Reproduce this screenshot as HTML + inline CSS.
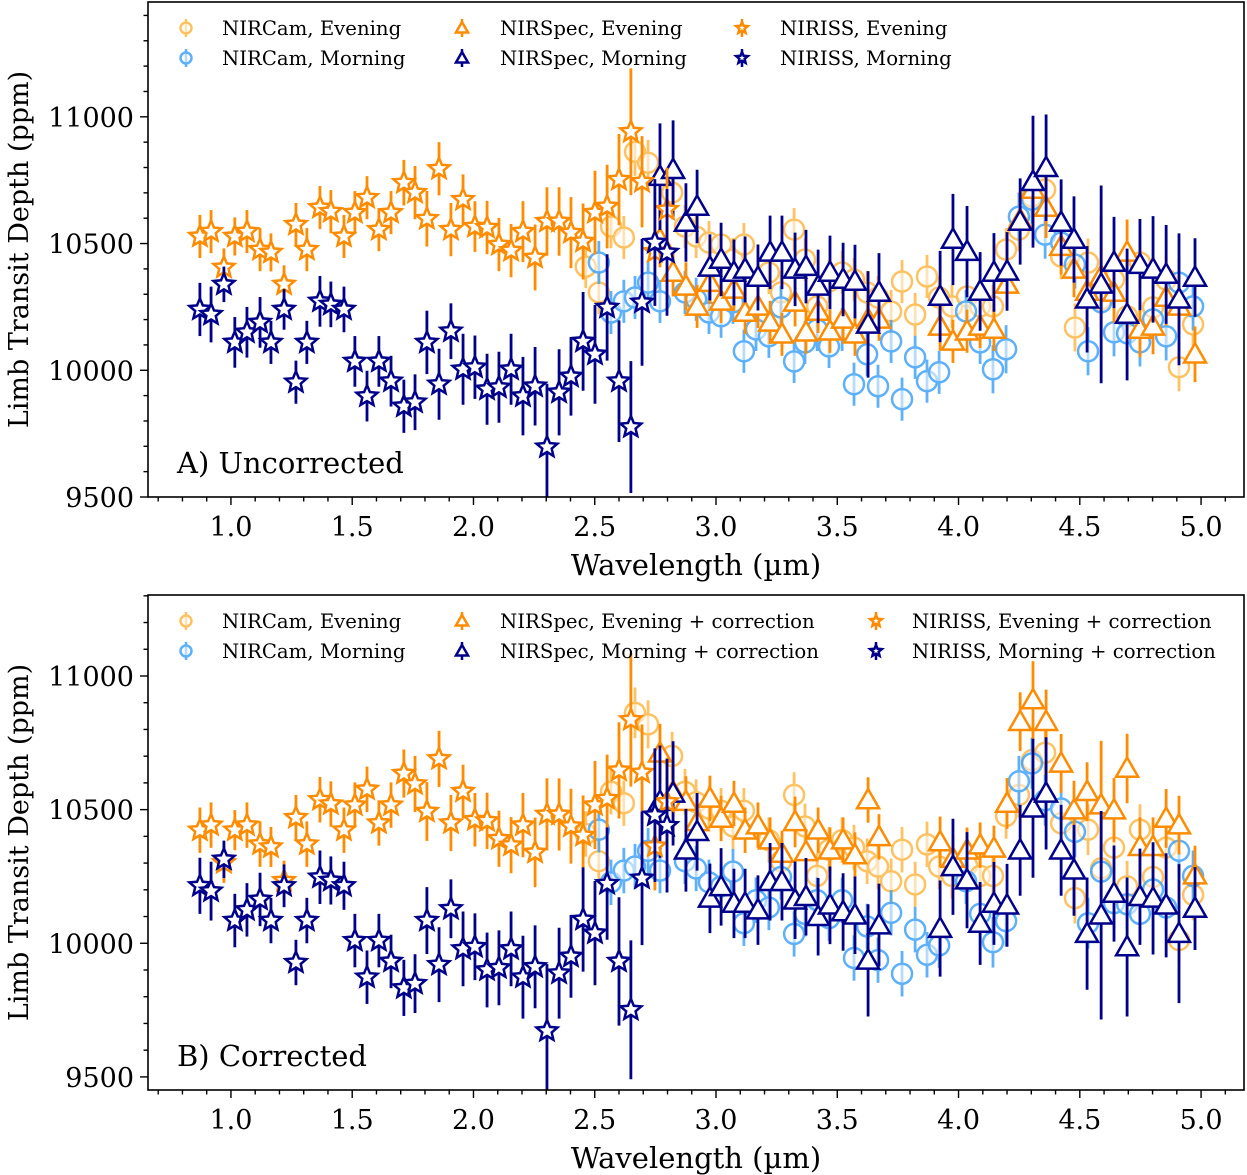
<!DOCTYPE html>
<html><head><meta charset="utf-8">
<style>
body{margin:0;background:#fff;}
svg{display:block;font-family:"DejaVu Serif","Liberation Serif",serif;}
</style></head>
<body>
<svg id="chart" width="1247" height="1175" viewBox="0 0 1247 1175" xmlns="http://www.w3.org/2000/svg"></svg>
<script>
// ---- data ----
const nisWl = [0.872,0.918,0.971,1.016,1.066,1.120,1.165,1.219,1.268,1.313,1.367,1.412,1.466,1.511,1.561,1.610,1.660,1.713,1.759,1.808,1.858,1.907,1.957,2.006,2.056,2.105,2.155,2.204,2.254,2.303,2.353,2.402,2.452,2.501,2.551,2.600,2.649,2.695,2.748,2.798];
const nisEveA = [10528,10547,10406,10528,10547,10476,10465,10339,10575,10476,10642,10626,10528,10622,10681,10555,10622,10740,10701,10598,10795,10555,10673,10567,10563,10496,10472,10547,10445,10587,10587,10543,10508,10622,10646,10752,10941,10744,10468,10634];
const nisMorA = [10240,10220,10339,10110,10150,10189,10110,10240,9953,10110,10272,10260,10240,10035,9898,10035,9957,9858,9874,10110,9945,10154,10004,10012,9925,9933,10004,9898,9937,9697,9913,9976,10114,10063,10248,9957,9776,10268,10504,10465];
const nisEveB = [10423,10442,10301,10423,10442,10371,10360,10234,10470,10371,10537,10521,10423,10517,10576,10450,10517,10635,10596,10493,10690,10450,10568,10462,10458,10391,10367,10442,10340,10482,10482,10438,10403,10517,10541,10647,10836,10639,10363,10529];
const nisMorB = [10215,10195,10314,10085,10125,10164,10085,10215,9928,10085,10247,10235,10215,10010,9873,10010,9932,9833,9849,10085,9920,10129,9979,9987,9900,9908,9979,9873,9912,9672,9888,9951,10089,10038,10223,9932,9751,10243,10479,10440];
const nisErrE = [85,85,75,75,85,85,75,75,85,85,85,85,85,85,85,85,85,90,105,110,105,105,100,100,105,105,105,120,130,135,135,140,150,165,165,180,250,180,165,165];
const nisErrM = [105,110,70,100,100,100,85,80,85,85,100,90,90,100,100,100,100,105,110,125,140,110,140,125,140,140,140,155,155,250,170,155,195,195,210,240,260,250,250,250];

const ncWlE = [2.463,2.517,2.567,2.620,2.666,2.720,2.819,2.872,2.918,2.971,3.021,3.070,3.115,3.218,3.268,3.322,3.367,3.417,3.466,3.520,3.569,3.623,3.668,3.722,3.767,3.821,3.870,3.920,3.973,4.035,4.089,4.142,4.196,4.249,4.303,4.357,4.423,4.480,4.534,4.588,4.641,4.695,4.748,4.802,4.856,4.909,4.967];
const ncEve = [10409,10307,10567,10524,10862,10819,10701,10567,10528,10504,10496,10437,10496,10386,10307,10555,10437,10252,10350,10386,10358,10307,10287,10232,10350,10220,10370,10287,10252,10291,10252,10252,10476,10555,10685,10713,10449,10169,10425,10280,10358,10213,10425,10248,10358,10012,10181];
const ncErrE = [85,85,85,85,95,90,90,85,85,85,85,85,85,85,85,85,85,85,85,85,85,85,85,85,85,85,85,85,85,85,85,85,85,85,85,85,90,95,95,95,95,95,95,95,95,95,95];
const ncWlM = [2.517,2.567,2.620,2.666,2.720,2.769,2.872,2.918,2.971,3.021,3.070,3.115,3.165,3.218,3.268,3.322,3.367,3.417,3.466,3.520,3.569,3.623,3.668,3.722,3.767,3.821,3.870,3.920,4.031,4.089,4.142,4.196,4.249,4.303,4.357,4.423,4.480,4.534,4.588,4.641,4.695,4.748,4.802,4.856,4.909,4.967];
const ncMor = [10425,10228,10272,10287,10346,10272,10307,10280,10228,10213,10268,10075,10161,10134,10248,10035,10110,10161,10094,10161,9945,10063,9937,10114,9886,10051,9957,9992,10232,10110,10004,10083,10606,10673,10535,10504,10417,10075,10268,10150,10146,10110,10201,10134,10346,10252];
const ncErrM = [85,85,85,85,85,85,85,85,85,85,85,85,85,85,85,85,85,85,85,85,85,85,85,85,85,85,85,85,85,85,95,95,95,95,95,95,95,95,95,95,95,95,95,95,95,95];

const nsWl = [2.769,2.823,2.876,2.922,2.975,3.021,3.074,3.120,3.173,3.223,3.272,3.326,3.371,3.421,3.470,3.524,3.573,3.627,3.672,3.924,3.977,4.035,4.089,4.146,4.200,4.254,4.307,4.361,4.423,4.476,4.530,4.588,4.641,4.695,4.748,4.802,4.856,4.909,4.975];
const nsEveA = [10516,10386,10331,10252,10346,10272,10319,10228,10252,10189,10142,10268,10150,10232,10154,10201,10142,10201,10201,10173,10114,10154,10173,10161,10339,10594,10713,10642,10488,10398,10311,10370,10307,10465,10161,10173,10287,10252,10063];
const nsMorA = [10764,10791,10583,10646,10406,10437,10386,10398,10366,10465,10465,10398,10409,10331,10386,10358,10350,10181,10307,10291,10516,10468,10311,10386,10390,10587,10744,10799,10583,10516,10280,10339,10425,10220,10417,10398,10378,10280,10366];
const nsEveB = [10711,10567,10530,10454,10542,10467,10523,10423,10442,10386,10336,10454,10342,10423,10348,10386,10330,10536,10398,10379,10317,10348,10367,10355,10523,10829,10910,10829,10673,10498,10567,10517,10498,10654,10361,10361,10467,10442,10255];
const nsMorB = [10530,10561,10348,10417,10168,10211,10149,10149,10124,10230,10230,10161,10174,10099,10142,10117,10105,9936,10068,10055,10286,10236,10074,10149,10142,10348,10505,10561,10348,10273,10036,10105,10186,9986,10174,10168,10142,10036,10130];
const nsErrE = [110,95,95,85,85,85,85,85,85,85,85,95,85,85,85,85,85,85,85,95,85,85,85,85,95,110,145,120,110,110,110,240,120,130,110,110,110,110,110];
const nsErrM = [210,195,155,145,130,145,130,130,130,145,145,145,145,145,145,145,145,210,155,180,180,180,155,155,155,170,260,210,170,170,210,390,180,260,180,210,195,260,155];

const xTickVals = [1.0,1.5,2.0,2.5,3.0,3.5,4.0,4.5,5.0];
const xTickLabels = ["1.0","1.5","2.0","2.5","3.0","3.5","4.0","4.5","5.0"];
const yTickVals = [9500,10000,10500,11000];
const yTickLabels = ["9500","10000","10500","11000"];

const C_NAVY = "#00008b", C_ORANGE = "#ff8c00", C_LORANGE = "#ffb43c", C_LBLUE = "#43a3f7";
const NS = "http://www.w3.org/2000/svg";
const svg = document.getElementById('chart');
function mk(tag, attrs, parent){const e=document.createElementNS(NS,tag);for(const k in attrs)e.setAttribute(k,attrs[k]);(parent||svg).appendChild(e);return e;}

function starPts(cx,cy,R){const r=R*0.45;let p=[];for(let i=0;i<10;i++){const a=-Math.PI/2+i*Math.PI/5;const rr=i%2?r:R;p.push((cx+rr*Math.cos(a)).toFixed(1)+","+(cy+rr*Math.sin(a)).toFixed(1));}return p.join(" ");}
function marker(g,shape,cx,cy,color,scale){
  let m;
  if(shape==='o'){m=mk('circle',{cx:cx,cy:cy,r:10*scale,fill:'#fff','fill-opacity':0.55,stroke:color,'stroke-width':2.5},g);}
  else if(shape==='^'){const s=11*scale;m=mk('polygon',{points:`${cx},${cy-s} ${cx+s},${cy+s*0.75} ${cx-s},${cy+s*0.75}`,fill:'#fff',stroke:color,'stroke-width':2.5,'stroke-linejoin':'miter'},g);}
  else {m=mk('polygon',{points:starPts(cx,cy,11*scale),fill:'#fff',stroke:color,'stroke-width':2.5},g);}
  return m;
}

function drawPanel(p){
  const X=v=>p.left+(v-p.xmin)/(p.xmax-p.xmin)*(p.right-p.left);
  const Y=v=>p.bottom-(v-p.ymin)/(p.ymax-p.ymin)*(p.bottom-p.top);
  const g=mk('g',{});
  
  
  const clipId='clip'+p.id;
  const cp=mk('clipPath',{id:clipId},g);mk('rect',{x:p.left,y:p.top,width:p.right-p.left,height:p.bottom-p.top},cp);
  const plot=mk('g',{'clip-path':`url(#${clipId})`},g);
  
  
  p.series.forEach(s=>{
    const sg=mk('g',{opacity:s.alpha||1},plot);
    
    
    for(let i=0;i<s.x.length;i++){
      const cx=X(s.x[i]),cy=Y(s.y[i]);
      const ln=mk('line',{x1:cx,x2:cx,y1:Y(s.y[i]+s.e[i]),y2:Y(s.y[i]-s.e[i]),stroke:s.color,'stroke-width':2.8},sg);
      
      
      const m=marker(sg,s.shape,cx,cy,s.color,1);
      
      
    }
  });
  const fr=mk('rect',{x:p.left,y:p.top,width:p.right-p.left,height:p.bottom-p.top,fill:'none',stroke:'#000','stroke-width':1.6},g);
  
  
  for(let k=7;k<=51;k++){const v=k/10;const x=X(v);if(x<p.left||x>p.right)continue;const major=k%5===0;
    mk('line',{x1:x,x2:x,y1:p.bottom,y2:p.bottom+(major?8:4.5),stroke:'#000','stroke-width':1.4},g);}
  xTickVals.forEach((v,i)=>{const t=mk('text',{x:X(v),y:p.bottom+39,'text-anchor':'middle','font-size':27},g);t.textContent=xTickLabels[i];
    
    });
  for(let v=9500;v<=p.ymax;v+=100){const y=Y(v);const major=v%500===0;mk('line',{x1:p.left,x2:p.left-(major?8:4.5),y1:y,y2:y,stroke:'#000','stroke-width':1.4},g);}
  yTickVals.forEach((v,i)=>{const t=mk('text',{x:p.left-14,y:Y(v)+10,'text-anchor':'end','font-size':27},g);t.textContent=yTickLabels[i];
    
    });
  const xl=mk('text',{x:696,y:p.bottom+78,'text-anchor':'middle','font-size':29},g);xl.textContent='Wavelength (µm)';
  
  
  const cyl=(p.top+p.bottom)/2;
  const yl=mk('text',{x:0,y:0,'text-anchor':'middle','font-size':27,transform:`translate(28,${cyl}) rotate(-90)`},g);yl.textContent='Limb Transit Depth (ppm)';
  
  
  const pl=mk('text',{x:177,y:p.bottom-24,'font-size':29},g);pl.textContent=p.label;
  
  
  const lg=mk('g',{},g);
  
  
  p.legend.forEach(L=>{
    const eg=mk('g',{opacity:L.alpha||1},lg);
    
    
    mk('line',{x1:L.mx,x2:L.mx,y1:L.y-9,y2:L.y+9,stroke:L.color,'stroke-width':2.5},eg);
    marker(eg,L.shape,L.mx,L.y,L.color,0.55);
    const t=mk('text',{x:L.tx,y:L.y+7,'font-size':19.7},lg);t.textContent=L.text;
    
    
  });
}

drawPanel({id:'A',name:'panel-a-uncorrected',left:148,right:1244,top:2,bottom:497,xmin:0.658,xmax:5.177,ymin:9500,ymax:11453,label:'A) Uncorrected',
  series:[
    {name:'nircam-evening',x:ncWlE,y:ncEve,e:ncErrE,shape:'o',color:C_LORANGE,alpha:0.8},
    {name:'nircam-morning',x:ncWlM,y:ncMor,e:ncErrM,shape:'o',color:C_LBLUE,alpha:0.85},
    {name:'nirspec-evening',x:nsWl,y:nsEveA,e:nsErrE,shape:'^',color:C_ORANGE},
    {name:'nirspec-morning',x:nsWl,y:nsMorA,e:nsErrM,shape:'^',color:C_NAVY},
    {name:'niriss-evening',x:nisWl,y:nisEveA,e:nisErrE,shape:'*',color:C_ORANGE},
    {name:'niriss-morning',x:nisWl,y:nisMorA,e:nisErrM,shape:'*',color:C_NAVY}],
  legend:[
    {mx:186,tx:222,y:28,shape:'o',color:C_LORANGE,alpha:0.8,text:'NIRCam, Evening'},
    {mx:186,tx:222,y:58,shape:'o',color:C_LBLUE,alpha:0.85,text:'NIRCam, Morning'},
    {mx:462,tx:500,y:28,shape:'^',color:C_ORANGE,text:'NIRSpec, Evening'},
    {mx:462,tx:500,y:58,shape:'^',color:C_NAVY,text:'NIRSpec, Morning'},
    {mx:742,tx:780,y:28,shape:'*',color:C_ORANGE,text:'NIRISS, Evening'},
    {mx:742,tx:780,y:58,shape:'*',color:C_NAVY,text:'NIRISS, Morning'}]
});
drawPanel({id:'B',name:'panel-b-corrected',left:148,right:1244,top:595,bottom:1090,xmin:0.658,xmax:5.177,ymin:9451,ymax:11303,label:'B) Corrected',
  series:[
    {name:'nircam-evening',x:ncWlE,y:ncEve,e:ncErrE,shape:'o',color:C_LORANGE,alpha:0.8},
    {name:'nircam-morning',x:ncWlM,y:ncMor,e:ncErrM,shape:'o',color:C_LBLUE,alpha:0.85},
    {name:'nirspec-evening-corrected',x:nsWl,y:nsEveB,e:nsErrE,shape:'^',color:C_ORANGE},
    {name:'nirspec-morning-corrected',x:nsWl,y:nsMorB,e:nsErrM,shape:'^',color:C_NAVY},
    {name:'niriss-evening-corrected',x:nisWl,y:nisEveB,e:nisErrE,shape:'*',color:C_ORANGE},
    {name:'niriss-morning-corrected',x:nisWl,y:nisMorB,e:nisErrM,shape:'*',color:C_NAVY}],
  legend:[
    {mx:186,tx:222,y:621,shape:'o',color:C_LORANGE,alpha:0.8,text:'NIRCam, Evening'},
    {mx:186,tx:222,y:651,shape:'o',color:C_LBLUE,alpha:0.85,text:'NIRCam, Morning'},
    {mx:462,tx:500,y:621,shape:'^',color:C_ORANGE,text:'NIRSpec, Evening + correction'},
    {mx:462,tx:500,y:651,shape:'^',color:C_NAVY,text:'NIRSpec, Morning + correction'},
    {mx:876,tx:912,y:621,shape:'*',color:C_ORANGE,text:'NIRISS, Evening + correction'},
    {mx:876,tx:912,y:651,shape:'*',color:C_NAVY,text:'NIRISS, Morning + correction'}]
});
</script>
</body></html>
